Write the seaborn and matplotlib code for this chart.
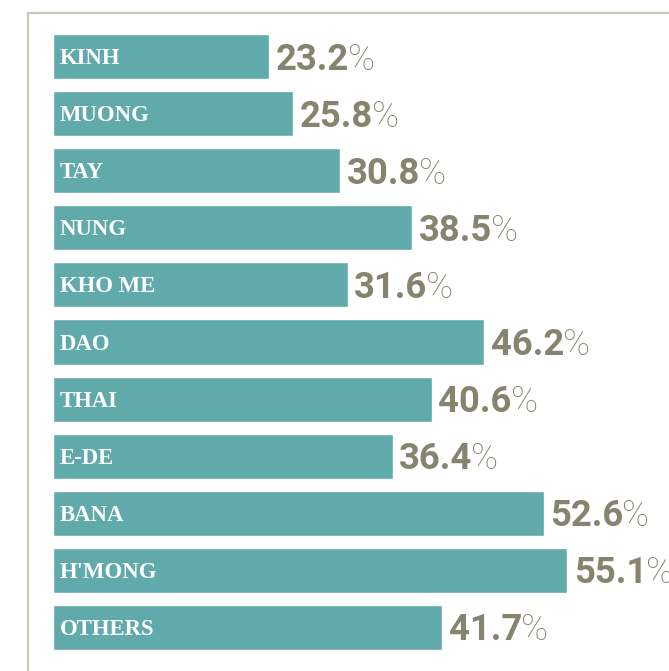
import matplotlib
matplotlib.use("Agg")
import matplotlib.pyplot as plt
from matplotlib.lines import Line2D
import seaborn as sns
import pandas as pd

groups = ["KINH", "MUONG", "TAY", "NUNG", "KHO ME", "DAO", "THAI", "E-DE",
          "BANA", "H'MONG", "OTHERS"]
values = [23.2, 25.8, 30.8, 38.5, 31.6, 46.2, 40.6, 36.4, 52.6, 55.1, 41.7]

df = pd.DataFrame({"group": groups, "value": values})

sns.set_theme(style="white")
W, H = 669, 671
fig = plt.figure(figsize=(W / 100, H / 100), dpi=100)
ax = fig.add_axes([52.5 / W, 1 - 656.0 / H, 1 - 52.5 / W, (656.0 - 28.0) / H])

bar_color = "#61aaac"
text_color = "#86846e"

sns.barplot(data=df, y="group", x="value", orient="h", color=bar_color,
            saturation=1, width=0.79, ax=ax)

ax.set_xlim(0, 66.0)
ax.set_ylim(10.5, -0.5)
ax.set_axis_off()

px = 0.72  # points per pixel at 100 dpi

for i, (g, v) in enumerate(zip(groups, values)):
    ax.annotate(g, xy=(0, i), xytext=(7.5 * px, -7.5 * px),
                textcoords="offset points", ha="left", va="baseline",
                color="white", fontsize=16.4, fontweight="bold",
                family=["Liberation Serif", "DejaVu Serif"])
    t = ax.annotate(f"{v:.1f}", xy=(v, i), xytext=(6.5 * px, -13 * px),
                    textcoords="offset points", ha="left", va="baseline",
                    color=text_color, fontsize=26.3, fontweight="bold",
                    family=["Roboto", "DejaVu Sans"], annotation_clip=False)
    ax.annotate("%", xy=(1, 0), xycoords=t, xytext=(-0.8, 0),
                textcoords="offset points", ha="left", va="bottom",
                color=text_color, fontsize=26.3, fontweight="light",
                family=["Roboto", "DejaVu Sans"], annotation_clip=False)

frame_color = "#ccc9ba"
x0 = 28.2 / W
y0 = 1 - 13.2 / H
fig.add_artist(Line2D([x0, x0], [0, y0], transform=fig.transFigure,
                      color=frame_color, lw=1.6, solid_capstyle="projecting"))
fig.add_artist(Line2D([x0, 1], [y0, y0], transform=fig.transFigure,
                      color=frame_color, lw=1.6, solid_capstyle="projecting"))

fig.savefig("out.png", dpi=100, facecolor="white")
